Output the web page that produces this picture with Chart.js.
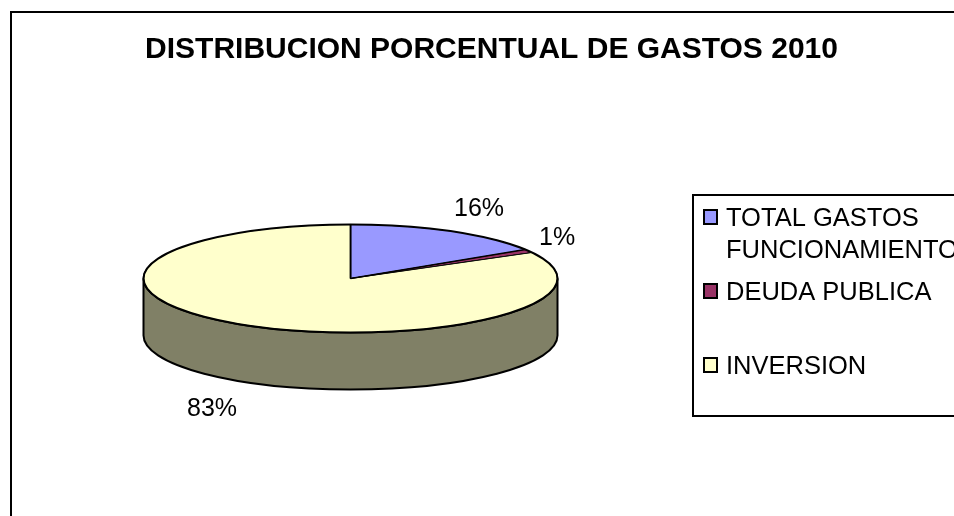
<!DOCTYPE html>
<html><head><meta charset="utf-8">
<style>html,body{margin:0;padding:0;background:#fff}#w{width:954px;height:516px;position:relative;overflow:hidden}</style>
<script src="https://cdn.jsdelivr.net/npm/chart.js@4"></script>
</head><body><div id="w"><canvas id="c" width="954" height="516"></canvas></div>
<script>
const titleText = 'DISTRIBUCION PORCENTUAL DE GASTOS 2010';
const categories = ['TOTAL GASTOS FUNCIONAMIENTO', 'DEUDA PUBLICA', 'INVERSION'];
const legendLines = [['TOTAL GASTOS', 'FUNCIONAMIENTO'], ['DEUDA PUBLICA'], ['INVERSION']];
const values = [16, 1, 83];
const colors = ['#9999FF', '#993366', '#FFFFCC'];
const sideColor = '#808066';

const FONT = '"Liberation Sans", Arial, sans-serif';
const CX = 350.5, CY = 278.5, RX = 207, RY = 54, DEPTH = 57;
const SY = RY / RX;

const frame = {
  id: 'frame',
  beforeDraw(chart) {
    const c = chart.ctx;
    c.save();
    c.fillStyle = '#fff';
    c.fillRect(0, 0, 954, 516);
    c.strokeStyle = '#000';
    c.lineWidth = 2;
    c.strokeRect(11, 12, 1000, 600);
    c.restore();
  }
};

const pie3d = {
  id: 'pie3d',
  beforeDatasetsDraw(chart) {
    const c = chart.ctx;
    const arc = chart.getDatasetMeta(0).data[0];
    const r = arc.outerRadius;
    c.save();
    c.beginPath();
    c.ellipse(CX, CY, r, RY, 0, 0, Math.PI);
    c.lineTo(CX - r, CY + DEPTH);
    c.ellipse(CX, CY + DEPTH, r, RY, 0, Math.PI, 0, true);
    c.closePath();
    c.fillStyle = sideColor;
    c.fill();
    c.strokeStyle = '#000';
    c.lineWidth = 2;
    c.stroke();
    c.restore();
    // flatten the top face
    c.save();
    c.translate(CX, CY);
    c.scale(1, SY);
    c.translate(-arc.x, -arc.y);
  },
  afterDatasetsDraw(chart) {
    const c = chart.ctx;
    c.restore();
    const arcs = chart.getDatasetMeta(0).data;
    const r = arcs[0].outerRadius;
    c.save();
    c.strokeStyle = '#000';
    c.lineWidth = 2;
    c.beginPath();
    c.ellipse(CX, CY, r, RY, 0, 0, Math.PI * 2);
    c.stroke();
    // radial seams, thickened after flattening
    arcs.forEach((a, i) => {
      c.lineWidth = i === 2 ? 0.8 : 1.4;
      c.beginPath();
      c.moveTo(CX, CY);
      c.lineTo(CX + r * Math.cos(a.startAngle), CY + RY * Math.sin(a.startAngle));
      c.stroke();
    });
    c.restore();
  }
};

const labelsAndLegend = {
  id: 'labelsAndLegend',
  afterDraw(chart) {
    const c = chart.ctx;
    c.save();
    c.fillStyle = '#000';
    c.textBaseline = 'alphabetic';
    c.textAlign = 'left';
    c.font = '25px ' + FONT;
    const pos = [[454, 216], [539, 245], [187, 416]];
    values.forEach((v, i) => c.fillText(v + '%', pos[i][0], pos[i][1]));

    // legend box
    c.strokeStyle = '#000';
    c.lineWidth = 2;
    c.strokeRect(693, 195, 400, 221);
    c.font = '25.5px ' + FONT;
    const boxY = [217, 291, 365];
    const textY = [226, 300, 374];
    legendLines.forEach((lines, i) => {
      c.fillStyle = colors[i];
      c.fillRect(704, boxY[i] - 7, 13, 14);
      c.strokeStyle = '#000';
      c.lineWidth = 2;
      c.strokeRect(704, boxY[i] - 7, 13, 14);
      c.fillStyle = '#000';
      lines.forEach((t, j) => c.fillText(t, 726, textY[i] + j * 32));
    });
    c.restore();
  }
};

new Chart(document.getElementById('c'), {
  type: 'pie',
  data: {
    labels: categories,
    datasets: [{
      data: values,
      backgroundColor: colors,
      borderColor: '#000',
      borderWidth: 1.5
    }]
  },
  options: {
    responsive: false,
    animation: false,
    events: [],
    layout: { padding: { left: 29 } },
    radius: RX,
    plugins: {
      legend: { display: false },
      tooltip: { enabled: false },
      title: {
        display: true,
        text: titleText,
        color: '#000',
        font: { family: FONT, size: 30, weight: 'bold' },
        padding: { top: 32, bottom: 0 },
        align: 'center'
      }
    }
  },
  plugins: [frame, pie3d, labelsAndLegend]
});
</script></body></html>
